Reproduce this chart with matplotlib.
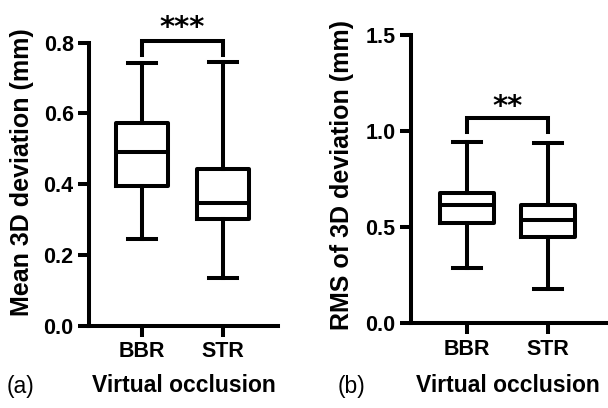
import matplotlib
matplotlib.use('Agg')
import matplotlib.pyplot as plt

plt.rcParams['font.family'] = ['Liberation Sans', 'DejaVu Sans']

groups = ['BBR', 'STR']

# box stats: low whisker, Q1, median, Q3, high whisker
mean_low = [0.244, 0.134]
mean_q1 = [0.395, 0.301]
mean_med = [0.491, 0.347]
mean_q3 = [0.573, 0.442]
mean_high = [0.744, 0.746]

rms_low = [0.289, 0.177]
rms_q1 = [0.523, 0.447]
rms_med = [0.616, 0.537]
rms_q3 = [0.680, 0.616]
rms_high = [0.945, 0.940]

mean_ticks = [0.0, 0.2, 0.4, 0.6, 0.8]
rms_ticks = [0.0, 0.5, 1.0, 1.5]

lw = 2.9
W, H = 608, 408


def stats(lo, q1, med, q3, hi):
    return [dict(whislo=lo[i], q1=q1[i], med=med[i], q3=q3[i], whishi=hi[i], fliers=[])
            for i in range(len(lo))]


def panel(ax, st, ticks, ylabel, width, sig, bar_y, leg_y, star_y, label_y):
    lp = dict(color='black', linewidth=lw)
    ax.bxp(st, positions=[1, 2], widths=width, showfliers=False,
           boxprops=lp, medianprops=lp, whiskerprops=lp, capprops=lp,
           capwidths=0.34)
    ax.set_xticks([1, 2])
    ax.set_xticklabels(groups, fontsize=15.5, fontweight='bold')
    ax.set_yticks(ticks)
    ax.set_yticklabels(['%.1f' % t for t in ticks], fontsize=15.5, fontweight='bold')
    ax.set_ylim(ticks[0], ticks[-1])
    ax.set_ylabel(ylabel, fontsize=18, fontweight='bold')
    ax.yaxis.set_label_coords(-0.29, label_y)
    for s in ['top', 'right']:
        ax.spines[s].set_visible(False)
    for s in ['left', 'bottom']:
        ax.spines[s].set_linewidth(lw)
    ax.tick_params(width=lw, length=8, pad=3)
    ax.plot([1, 1, 2, 2], [leg_y, bar_y, bar_y, leg_y], color='black', lw=lw,
            clip_on=False, solid_joinstyle='miter')
    ax.text(1.5, star_y, sig, ha='center', va='baseline', fontsize=21,
            fontweight='bold', family='DejaVu Sans', clip_on=False)


fig = plt.figure(figsize=(W / 100, H / 100), dpi=100)

ax1 = fig.add_axes([89 / W, 1 - 325.7 / H, (278 - 89) / W, (325.7 - 42.7) / H])
panel(ax1, stats(mean_low, mean_q1, mean_med, mean_q3, mean_high), mean_ticks,
      'Mean 3D deviation (mm)', 0.63, '***', 0.805, 0.765, 0.819, 0.543)
ax1.set_xlim(0.346, 2.679)

ax2 = fig.add_axes([411 / W, 1 - 323.3 / H, (607 - 411) / W, (323.3 - 35) / H])
panel(ax2, stats(rms_low, rms_q1, rms_med, rms_q3, rms_high), rms_ticks,
      'RMS of 3D deviation (mm)', 0.66, '**', 1.067, 0.997, 1.084, 0.514)
ax2.set_xlim(0.317, 2.72)

fig.text(7 / W, 1 - 386 / H, '(a)', fontsize=16.5, va='center', ha='left')
fig.text(184 / W, 1 - 386 / H, 'Virtual occlusion', fontsize=16.5, fontweight='bold',
         va='center', ha='center')
fig.text(338 / W, 1 - 386 / H, '(b)', fontsize=16.5, va='center', ha='left')
fig.text(508 / W, 1 - 386 / H, 'Virtual occlusion', fontsize=16.5, fontweight='bold',
         va='center', ha='center')

fig.savefig('out.png', dpi=100)
